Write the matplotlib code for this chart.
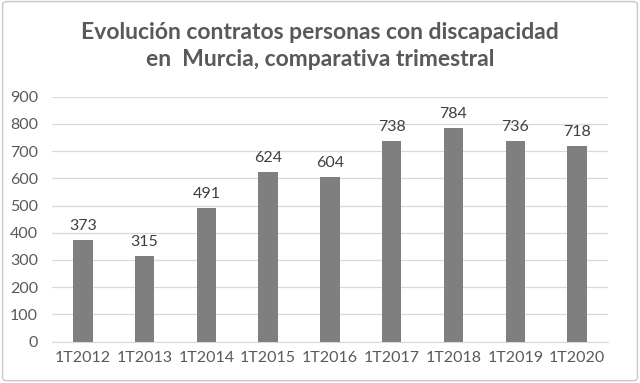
import matplotlib
matplotlib.use("Agg")
import matplotlib.pyplot as plt
from matplotlib.patches import FancyBboxPatch

categories = ["1T2012", "1T2013", "1T2014", "1T2015", "1T2016", "1T2017", "1T2018", "1T2019", "1T2020"]
values = [373, 315, 491, 624, 604, 738, 784, 736, 718]
yticks = [0, 100, 200, 300, 400, 500, 600, 700, 800, 900]
title = "Evolución contratos personas con discapacidad\nen  Murcia, comparativa trimestral"

plt.rcParams['font.family'] = ['Lato', 'DejaVu Sans']

fig = plt.figure(figsize=(6.4, 3.83), dpi=100)
fig.patch.set_facecolor("white")
border = FancyBboxPatch((0.004, 0.006), 0.992, 0.99, boxstyle="round,pad=0,rounding_size=0.008",
                        transform=fig.transFigure, facecolor="none", edgecolor="#c8c8c8",
                        linewidth=1.0, zorder=-10)
fig.patches.append(border)

ax = fig.add_axes([0.081, 0.108, 0.869, 0.6395])
ax.set_zorder(1)
ax.patch.set_alpha(0)
x = range(len(categories))
bars = ax.bar(x, values, width=0.316, color="#7f7f7f", zorder=3)
for xi, v in zip(x, values):
    ax.text(xi, v + 26, str(v), ha="center", va="bottom", fontsize=11.5, color="#404040")

ax.set_ylim(0, 900)
ax.set_xlim(-0.5, len(categories) - 0.5)
ax.set_yticks(yticks)
ax.set_yticklabels([str(t) for t in yticks], fontsize=11.5, color="#595959")
ax.set_xticks(list(x))
ax.set_xticklabels(categories, fontsize=11.5, color="#595959")
ax.tick_params(axis="both", length=0)
ax.tick_params(axis="y", pad=10)
ax.tick_params(axis="x", pad=7)
ax.grid(axis="y", color="#d9d9d9", linewidth=0.9, zorder=0)
for s in ["top", "right", "left"]:
    ax.spines[s].set_visible(False)
ax.spines["bottom"].set_color("#d9d9d9")

fig.text(0.5, 0.88, title, ha="center", va="center", fontsize=16.5, fontweight="bold",
         color="#595959", linespacing=1.4)

fig.savefig("out.png", dpi=100, facecolor=fig.get_facecolor())
